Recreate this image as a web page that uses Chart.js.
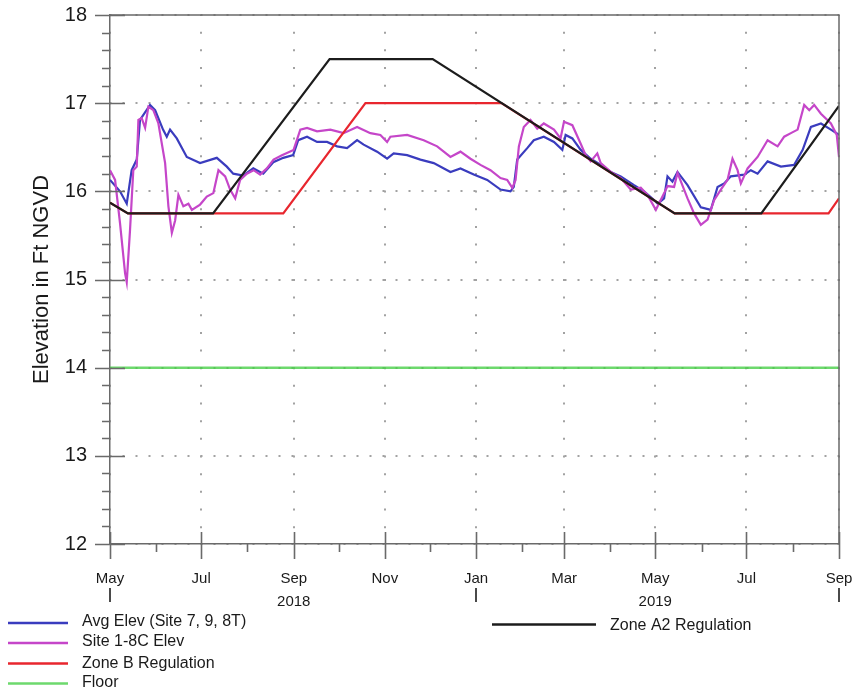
<!DOCTYPE html>
<html>
<head>
<meta charset="utf-8">
<script src="https://cdn.jsdelivr.net/npm/chart.js@4.4.1/dist/chart.umd.min.js"></script>
<style>
  html, body { margin: 0; padding: 0; background: #ffffff; }
  #wrap { width: 854px; height: 689px; }
</style>
</head>
<body>
<div id="wrap"><canvas id="c" width="854" height="689"></canvas></div>
<script>
// x values are days counted from 1 May 2018; y values are stage in ft NGVD.
const avgElevDay = [0, 6.7, 11.2, 14.5, 17.9, 20.1, 26.8, 30.2, 35.5, 38, 40.2, 44.7, 51.4, 60.3, 71.5, 78.2, 82.5, 89.2, 95.9, 102.6,
  109.3, 116, 122.6, 126, 131.9, 138.6, 145.3, 152, 158.7, 165.4, 169.8, 178.8, 185.5, 189.9, 198.9, 207.8, 216.7, 227.9, 234.6, 243.5,
  252.5, 261.4, 268.1, 270.3, 272.6, 279.3, 283.7, 290.4, 297.2, 302.8, 305, 309.5, 315.1, 321.8, 328.5, 335.2, 341.9, 350.8, 357.5, 364.2,
  366.7, 370.9, 373.2, 376.5, 379.9, 386.6, 395.5, 402.2, 406.7, 411.1, 415.6, 424.5, 429, 433.5, 440.2, 449.1, 458, 463.7, 469.2, 475.9,
  482.6, 488];
const avgElev = [16.13, 16.0, 15.86, 16.24, 16.36, 16.81, 16.98, 16.92, 16.70, 16.62, 16.70, 16.60, 16.39, 16.32, 16.38, 16.28, 16.20, 16.18, 16.26, 16.20,
  16.33, 16.38, 16.41, 16.58, 16.62, 16.56, 16.56, 16.51, 16.49, 16.58, 16.53, 16.45, 16.37, 16.43, 16.41, 16.36, 16.32, 16.22, 16.26, 16.19,
  16.13, 16.02, 16.00, 16.05, 16.36, 16.49, 16.58, 16.62, 16.56, 16.47, 16.64, 16.60, 16.47, 16.37, 16.30, 16.22, 16.17, 16.07, 16.00, 15.90,
  15.86, 15.92, 16.17, 16.11, 16.22, 16.07, 15.82, 15.79, 16.05, 16.09, 16.17, 16.19, 16.24, 16.20, 16.34, 16.28, 16.30, 16.47, 16.73, 16.77,
  16.70, 16.64];

const site18cDay = [0, 3.4, 6.7, 10.1, 11.2, 13.4, 15.6, 17.9, 19, 21.2, 23.5, 25.7, 29, 32.4, 36.9, 39.1, 41.4, 43.6, 45.8, 49.1,
  52.5, 54.8, 60.3, 64.8, 69.2, 72.6, 77.1, 80.4, 83.8, 87.1, 91.6, 96.1, 100.5, 105, 109.5, 115.1, 122.9, 127.4, 131.9, 138.6,
  147.5, 156.4, 165.4, 174.3, 181, 185.5, 187.7, 198.9, 210, 219, 227.9, 234.6, 241.3, 248, 254.7, 261.4, 265.9, 269.3, 271.5, 273.7,
  277, 281.5, 286, 290.4, 297.2, 301.6, 303.9, 309.5, 315.1, 318.4, 321.8, 326.2, 328.5, 335.2, 341.9, 348.6, 355.3, 359.8, 365.4, 371,
  373.2, 377.6, 379.9, 386.6, 391, 395.5, 400, 404.4, 408.9, 413.4, 416.7, 420.1, 422.3, 426.8, 433.5, 440.2, 446.9, 451.3, 455.8, 460.3,
  464.7, 468.1, 471.4, 475.9, 482.6, 486.5, 488];
const site18cElev = [16.24, 16.13, 15.64, 15.07, 14.97, 15.56, 16.24, 16.28, 16.81, 16.83, 16.72, 16.96, 16.92, 16.77, 16.32, 15.83, 15.53, 15.67, 15.96, 15.83,
  15.86, 15.79, 15.85, 15.94, 15.98, 16.24, 16.17, 16.02, 15.92, 16.13, 16.20, 16.24, 16.19, 16.26, 16.36, 16.41, 16.47, 16.70, 16.72, 16.68,
  16.70, 16.66, 16.73, 16.66, 16.64, 16.56, 16.62, 16.64, 16.58, 16.51, 16.39, 16.45, 16.37, 16.30, 16.24, 16.15, 16.13, 16.04, 16.13, 16.51,
  16.73, 16.81, 16.71, 16.77, 16.70, 16.60, 16.79, 16.75, 16.54, 16.41, 16.34, 16.43, 16.32, 16.22, 16.15, 16.02, 16.04, 15.96, 15.79, 15.98,
  16.06, 16.05, 16.21, 15.92, 15.75, 15.62, 15.68, 15.90, 16.02, 16.13, 16.37, 16.24, 16.09, 16.26, 16.39, 16.58, 16.51, 16.62, 16.66, 16.70,
  16.98, 16.92, 16.98, 16.88, 16.77, 16.64, 16.39];

const zoneA2Day = [0, 12, 69, 147, 216, 378, 436, 488];
const zoneA2Elev = [15.87, 15.75, 15.75, 17.5, 17.5, 15.75, 15.75, 16.97];

const zoneBDay = [0, 12, 116, 171, 262, 378, 481, 488];
const zoneBElev = [15.87, 15.75, 15.75, 17.0, 17.0, 15.75, 15.75, 15.92];

const floorDay = [0, 488];
const floorElev = [14, 14];

// Axis labelling
const monthTickDays = [0, 61, 123, 184, 245, 304, 365, 426, 488];
const monthTickLabels = ['May', 'Jul', 'Sep', 'Nov', 'Jan', 'Mar', 'May', 'Jul', 'Sep'];
const minorMonthDays = [31, 92, 153, 214, 276, 335, 396, 457];
const yearLabels = ['2018', '2019'];
const yearLabelDays = [123, 365];
const yearBreakDays = [0, 245, 488];

const seriesNames = ['Avg Elev (Site 7, 9, 8T)', 'Site 1-8C Elev', 'Zone B Regulation', 'Floor', 'Zone A2 Regulation'];
const colors = {
  avg: '#3a3cbe',
  site: '#c546c9',
  zoneB: '#e8262e',
  floor: '#49cf49',
  zoneA2: '#1c1c1c'
};

const toPoints = (xs, ys) => xs.map((x, i) => ({ x: x, y: ys[i] }));
const FONT = "'Liberation Sans', Arial, Helvetica, sans-serif";

const lineDefaults = { pointRadius: 0, pointHoverRadius: 0, tension: 0, fill: false, borderWidth: 2.2 };

// Frame, tick marks, year row and legend
const decorations = {
  id: 'decorations',
  afterDraw(chart) {
    const { ctx, chartArea: a, scales: { x, y } } = chart;
    ctx.save();
    ctx.strokeStyle = '#6a6a6a';
    ctx.lineWidth = 1.5;
    ctx.beginPath();
    ctx.moveTo(a.left, a.top); ctx.lineTo(a.right, a.top); ctx.lineTo(a.right, a.bottom);
    ctx.stroke();

    ctx.lineWidth = 1.6;
    ctx.beginPath();
    for (let v = 12; v <= 18.001; v += 0.2) {
      const py = Math.round(y.getPixelForValue(v)) + 0.5;
      const major = Math.abs(v - Math.round(v)) < 0.01;
      if (major) { ctx.moveTo(a.left - 15, py); ctx.lineTo(a.left + 15, py); }
      else { ctx.moveTo(a.left - 8, py); ctx.lineTo(a.left, py); }
    }
    monthTickDays.forEach(d => {
      const px = Math.round(x.getPixelForValue(d)) + 0.5;
      ctx.moveTo(px, a.bottom - 12); ctx.lineTo(px, a.bottom + 15);
    });
    minorMonthDays.forEach(d => {
      const px = Math.round(x.getPixelForValue(d)) + 0.5;
      ctx.moveTo(px, a.bottom); ctx.lineTo(px, a.bottom + 8);
    });
    ctx.stroke();

    // year separators and year labels
    ctx.strokeStyle = '#4a4a4a';
    ctx.lineWidth = 2;
    ctx.beginPath();
    yearBreakDays.forEach(d => {
      const px = Math.round(x.getPixelForValue(d));
      ctx.moveTo(px, 588); ctx.lineTo(px, 602);
    });
    ctx.stroke();
    ctx.fillStyle = '#1a1a1a';
    ctx.font = '15px ' + FONT;
    ctx.textAlign = 'center';
    ctx.textBaseline = 'alphabetic';
    yearLabels.forEach((t, i) => ctx.fillText(t, x.getPixelForValue(yearLabelDays[i]), 606));

    // legend
    const ds = chart.data.datasets;
    const drawItem = (idx, x1, x2, ly, tx, ty) => {
      ctx.strokeStyle = ds[idx].borderColor;
      ctx.lineWidth = 2.5;
      ctx.beginPath(); ctx.moveTo(x1, ly); ctx.lineTo(x2, ly); ctx.stroke();
      ctx.fillStyle = '#1a1a1a';
      ctx.font = '16px ' + FONT;
      ctx.textAlign = 'left';
      ctx.fillText(ds[idx].label, tx, ty);
    };
    drawItem(0, 8, 68, 623, 82, 625.5);
    drawItem(1, 8, 68, 643, 82, 646);
    drawItem(2, 8, 68, 663.5, 82, 668);
    drawItem(3, 8, 68, 683.5, 82, 686.5);
    drawItem(4, 492, 596, 624.5, 610, 630);
    ctx.restore();
  }
};

new Chart(document.getElementById('c'), {
  type: 'line',
  data: {
    datasets: [
      Object.assign({ label: seriesNames[0], data: toPoints(avgElevDay, avgElev), borderColor: colors.avg, order: 3 }, lineDefaults),
      Object.assign({ label: seriesNames[1], data: toPoints(site18cDay, site18cElev), borderColor: colors.site, order: 2 }, lineDefaults),
      Object.assign({ label: seriesNames[2], data: toPoints(zoneBDay, zoneBElev), borderColor: colors.zoneB, order: 1 }, lineDefaults),
      Object.assign({ label: seriesNames[3], data: toPoints(floorDay, floorElev), borderColor: 'rgba(73,207,73,0.8)', order: 4 }, lineDefaults, { borderWidth: 2.5 }),
      Object.assign({ label: seriesNames[4], data: toPoints(zoneA2Day, zoneA2Elev), borderColor: colors.zoneA2, order: 0 }, lineDefaults)
    ]
  },
  options: {
    responsive: false,
    animation: false,
    devicePixelRatio: 1,
    layout: { autoPadding: false, padding: { top: 15, right: 15, left: 0, bottom: 0 } },
    plugins: { legend: { display: false }, tooltip: { enabled: false } },
    events: [],
    scales: {
      x: {
        type: 'linear',
        min: 0,
        max: 488,
        afterBuildTicks: s => { s.ticks = monthTickDays.map(v => ({ value: v })); },
        afterFit: s => { s.height = 145; s.paddingLeft = 0; s.paddingRight = 0; },
        ticks: {
          autoSkip: false,
          maxRotation: 0,
          padding: 26,
          color: '#1a1a1a',
          font: { family: FONT, size: 15 },
          callback: (v, i) => monthTickLabels[i]
        },
        grid: { color: '#a2a2a2', lineWidth: 2, drawTicks: false },
        border: { display: true, color: '#6a6a6a', width: 1.5, dash: [2, 15.66], dashOffset: 1 }
      },
      y: {
        min: 12,
        max: 18,
        afterFit: s => { s.width = 110; s.paddingTop = 0; s.paddingBottom = 0; },
        ticks: {
          stepSize: 1,
          padding: 23,
          color: '#1a1a1a',
          font: { family: FONT, size: 20 }
        },
        grid: { color: '#a2a2a2', lineWidth: 2, drawTicks: false },
        border: { display: true, color: '#6a6a6a', width: 1.5, dash: [2, 11.0], dashOffset: 1 },
        title: {
          display: true,
          text: 'Elevation in Ft NGVD',
          color: '#1a1a1a',
          font: { family: FONT, size: 22, lineHeight: 1.2 },
          padding: { top: 29, bottom: 0 }
        }
      }
    }
  },
  plugins: [decorations]
});
</script>
</body>
</html>
